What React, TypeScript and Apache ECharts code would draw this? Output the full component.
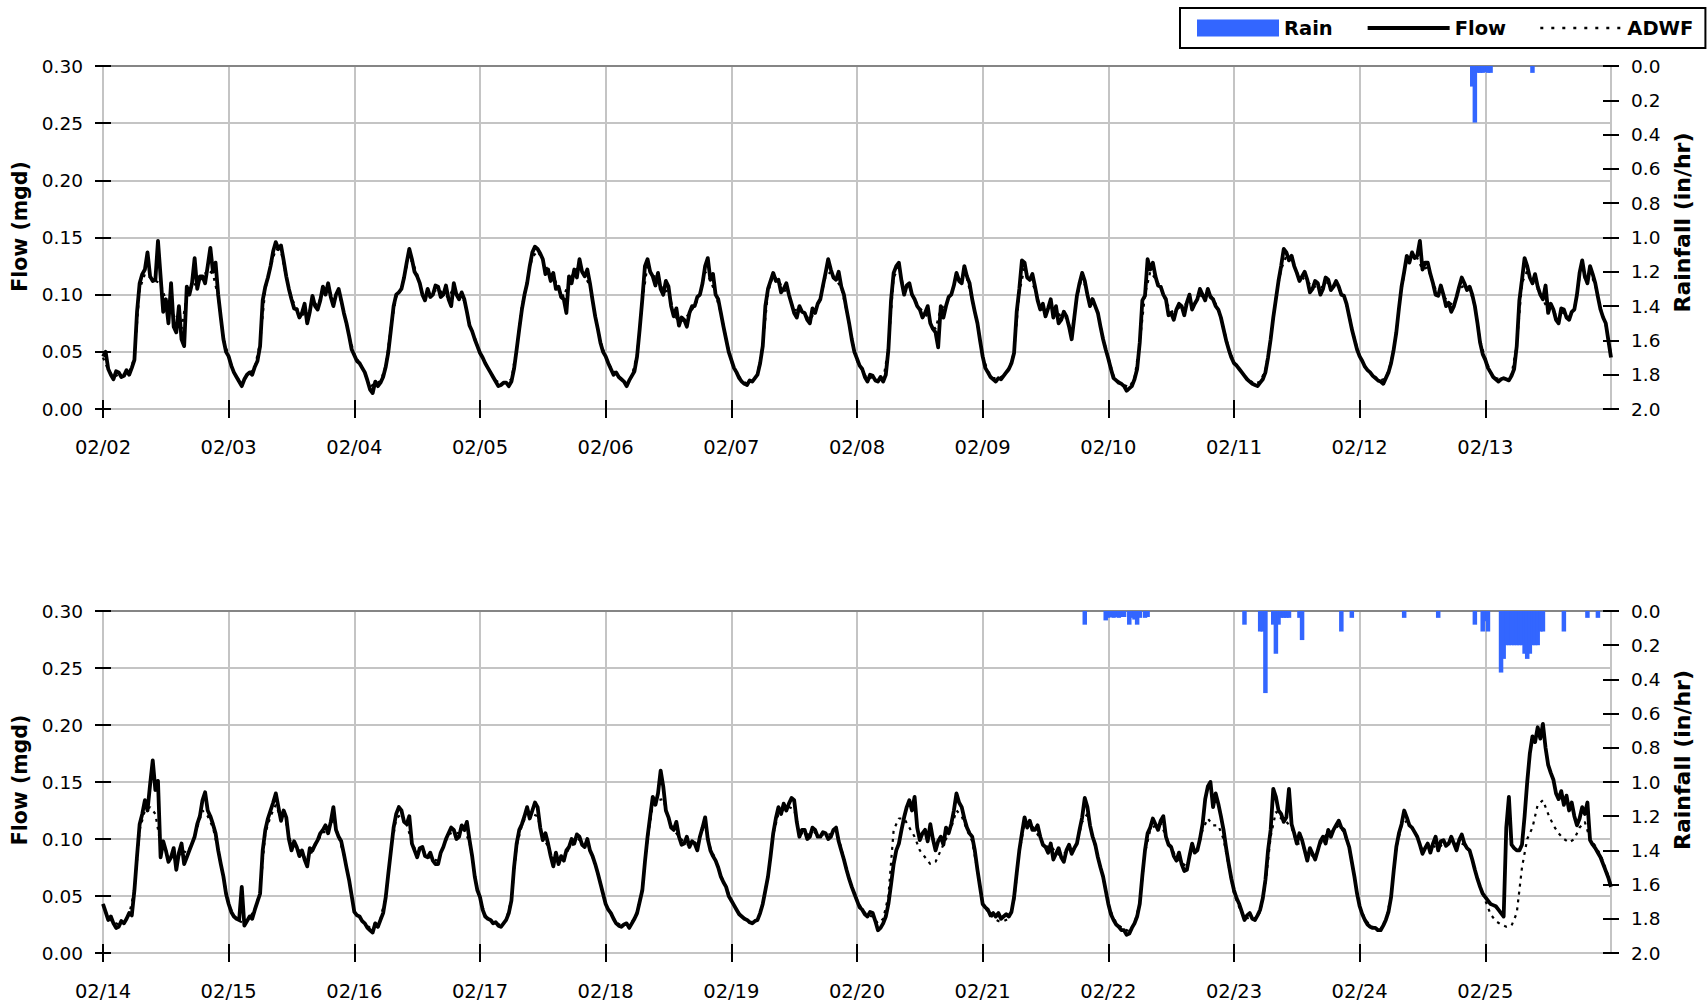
import React, { useEffect, useRef } from "react";
import * as echarts from "echarts";

const FONT = '"DejaVu Sans", "Liberation Sans", sans-serif';

// Tick labels (one per day gridline)
const daysTop = ["02/02", "02/03", "02/04", "02/05", "02/06", "02/07", "02/08", "02/09", "02/10", "02/11", "02/12", "02/13"];
const daysBottom = ["02/14", "02/15", "02/16", "02/17", "02/18", "02/19", "02/20", "02/21", "02/22", "02/23", "02/24", "02/25"];

// Flow (mgd), 30-minute readings, one row per day
const flowTop: number[][] = [
  [.046,.050,.035,.030,.026,.033,.032,.028,.029,.034,.030,.036,.043,.085,.110,.118,.122,.137,.116,.112,.113,.147,.116,.085,.096,.075,.110,.072,.067,.090,.061,.055,.107,.100,.110,.132,.105,.116,.116,.110,.125,.141,.120,.128,.100,.080,.061,.050],
  [.046,.038,.032,.028,.024,.020,.026,.030,.032,.030,.037,.042,.055,.095,.107,.115,.125,.138,.146,.140,.143,.130,.116,.105,.096,.088,.087,.080,.084,.092,.075,.085,.099,.090,.087,.095,.107,.100,.110,.098,.090,.100,.105,.095,.084,.075,.064,.052],
  [.047,.042,.040,.036,.032,.025,.017,.014,.024,.020,.023,.028,.037,.050,.070,.090,.100,.102,.105,.115,.128,.140,.131,.120,.116,.110,.100,.095,.105,.098,.100,.108,.107,.098,.100,.108,.096,.090,.110,.100,.096,.102,.096,.085,.073,.068,.061,.055],
  [.049,.045,.040,.036,.032,.028,.024,.020,.021,.023,.023,.020,.024,.035,.052,.070,.087,.100,.110,.125,.137,.142,.140,.136,.131,.118,.122,.112,.119,.105,.107,.098,.096,.084,.116,.110,.122,.115,.131,.120,.116,.122,.110,.095,.081,.070,.058,.050],
  [.046,.040,.035,.030,.032,.028,.026,.024,.020,.025,.029,.033,.046,.070,.096,.125,.131,.120,.116,.108,.119,.105,.100,.112,.107,.090,.081,.088,.073,.080,.078,.072,.084,.090,.090,.098,.100,.110,.125,.132,.113,.118,.100,.096,.084,.072,.061,.050],
  [.043,.036,.032,.027,.024,.022,.021,.025,.024,.027,.030,.040,.055,.090,.105,.112,.119,.112,.113,.102,.105,.110,.100,.092,.084,.080,.090,.085,.084,.078,.075,.088,.084,.092,.096,.108,.119,.131,.122,.115,.113,.120,.107,.100,.087,.075,.061,.050],
  [.044,.038,.035,.028,.024,.030,.029,.025,.024,.028,.024,.030,.052,.095,.119,.125,.128,.112,.100,.108,.110,.100,.096,.090,.087,.080,.084,.090,.075,.070,.067,.054,.090,.080,.090,.098,.100,.108,.119,.112,.110,.125,.116,.110,.096,.085,.075,.060],
  [.046,.036,.032,.028,.026,.024,.027,.026,.029,.032,.035,.040,.049,.085,.105,.130,.128,.115,.113,.118,.107,.095,.087,.092,.081,.088,.096,.080,.090,.075,.078,.085,.081,.072,.061,.080,.099,.110,.119,.112,.100,.090,.096,.090,.084,.072,.061,.052],
  [.044,.035,.027,.025,.023,.022,.020,.016,.018,.020,.026,.035,.058,.095,.099,.131,.122,.128,.116,.108,.107,.100,.096,.082,.084,.078,.087,.092,.090,.082,.093,.100,.087,.092,.096,.105,.100,.095,.105,.098,.096,.090,.087,.080,.070,.060,.052,.045],
  [.040,.038,.035,.032,.029,.026,.024,.022,.021,.020,.023,.026,.032,.045,.061,.080,.096,.112,.125,.140,.137,.130,.134,.125,.119,.112,.116,.120,.113,.102,.105,.112,.110,.100,.105,.115,.113,.104,.107,.112,.107,.100,.099,.092,.081,.070,.061,.052],
  [.046,.042,.037,.034,.032,.029,.027,.025,.024,.022,.027,.032,.040,.052,.067,.088,.107,.120,.134,.128,.137,.132,.134,.147,.122,.128,.128,.118,.110,.100,.099,.108,.100,.090,.093,.085,.090,.098,.107,.115,.110,.104,.107,.100,.090,.075,.058,.048],
  [.043,.036,.032,.028,.026,.024,.026,.027,.026,.025,.029,.035,.055,.095,.113,.132,.125,.115,.110,.118,.107,.100,.096,.108,.084,.092,.087,.078,.075,.088,.087,.080,.078,.085,.087,.100,.119,.130,.116,.110,.125,.118,.110,.098,.087,.080,.075,.060],
];
const flowTopEnd = 0.045;

const flowBottom: number[][] = [
  [.043,.036,.029,.032,.026,.022,.023,.028,.026,.030,.035,.033,.055,.085,.113,.122,.134,.125,.148,.169,.143,.151,.084,.098,.090,.080,.084,.092,.073,.088,.096,.078,.084,.090,.096,.102,.113,.120,.134,.141,.125,.120,.113,.105,.090,.078,.067,.052],
  [.043,.036,.032,.030,.029,.058,.024,.028,.032,.030,.038,.045,.052,.090,.108,.118,.125,.132,.140,.128,.116,.125,.119,.100,.090,.098,.093,.085,.090,.082,.076,.092,.090,.095,.099,.105,.108,.112,.105,.115,.128,.108,.102,.098,.087,.075,.064,.050],
  [.036,.033,.032,.028,.026,.022,.020,.018,.026,.023,.029,.035,.049,.070,.090,.110,.122,.128,.125,.115,.113,.120,.096,.090,.084,.092,.093,.085,.084,.088,.081,.078,.078,.088,.093,.100,.105,.110,.108,.100,.102,.112,.108,.115,.099,.085,.067,.055],
  [.049,.038,.032,.030,.029,.026,.027,.024,.023,.026,.029,.035,.046,.075,.096,.108,.113,.120,.128,.118,.125,.132,.128,.110,.099,.105,.096,.085,.076,.088,.078,.085,.081,.090,.093,.100,.096,.104,.102,.095,.093,.100,.090,.085,.078,.070,.061,.052],
  [.043,.038,.035,.030,.026,.024,.023,.025,.026,.022,.026,.030,.035,.045,.055,.080,.102,.120,.137,.130,.140,.160,.146,.125,.119,.110,.108,.115,.102,.095,.096,.102,.093,.098,.096,.090,.102,.110,.119,.100,.090,.085,.081,.075,.067,.062,.058,.050],
  [.046,.042,.038,.034,.032,.030,.029,.027,.026,.028,.029,.035,.043,.055,.067,.085,.105,.118,.128,.122,.131,.125,.131,.136,.134,.115,.102,.108,.108,.100,.102,.110,.108,.102,.102,.106,.105,.100,.102,.108,.110,.098,.090,.082,.073,.065,.058,.052],
  [.046,.040,.038,.034,.032,.036,.035,.028,.020,.022,.026,.032,.043,.060,.078,.090,.096,.108,.119,.128,.134,.125,.137,.110,.099,.105,.108,.098,.113,.100,.090,.098,.102,.095,.110,.105,.113,.125,.140,.132,.128,.118,.110,.105,.102,.090,.073,.058],
  [.043,.040,.038,.033,.035,.032,.035,.030,.032,.034,.032,.036,.049,.070,.090,.105,.119,.110,.116,.108,.108,.112,.102,.095,.093,.088,.096,.082,.087,.092,.084,.080,.090,.095,.087,.092,.096,.108,.119,.136,.128,.112,.102,.095,.084,.075,.067,.055],
  [.043,.034,.029,.025,.023,.020,.020,.016,.017,.022,.026,.032,.043,.068,.090,.105,.110,.118,.113,.108,.116,.120,.102,.095,.093,.085,.081,.088,.078,.072,.073,.085,.096,.088,.090,.100,.113,.135,.146,.150,.128,.140,.131,.120,.108,.092,.078,.065],
  [.055,.048,.043,.036,.029,.033,.035,.030,.029,.033,.038,.048,.064,.090,.108,.144,.137,.125,.122,.115,.119,.144,.113,.105,.096,.105,.099,.090,.081,.092,.087,.082,.090,.098,.102,.096,.108,.102,.108,.112,.116,.110,.108,.100,.093,.080,.067,.052],
  [.041,.034,.029,.025,.023,.022,.022,.020,.020,.024,.029,.036,.049,.072,.093,.105,.113,.125,.119,.112,.110,.106,.102,.095,.087,.092,.096,.088,.096,.102,.090,.098,.099,.094,.096,.102,.096,.090,.099,.104,.096,.092,.090,.082,.073,.065,.058,.052],
  [.049,.046,.043,.042,.041,.038,.035,.032,.110,.137,.095,.092,.090,.090,.095,.120,.150,.175,.190,.185,.198,.188,.201,.180,.165,.158,.152,.140,.135,.142,.130,.138,.125,.132,.120,.112,.118,.128,.122,.132,.099,.095,.092,.088,.084,.078,.072,.066],
];
const flowBottomEnd = 0.058;

// ADWF (mgd), hourly, one row per day
const adwfTop: number[][] = [
  [.045,.034,.028,.030,.030,.032,.045,.105,.118,.115,.112,.110,.095,.090,.075,.070,.100,.108,.110,.115,.122,.118,.098,.062],
  [.046,.032,.025,.027,.031,.037,.058,.105,.124,.140,.138,.115,.097,.088,.084,.078,.095,.090,.104,.106,.095,.102,.084,.064],
  [.048,.040,.031,.019,.023,.024,.038,.072,.098,.106,.125,.130,.118,.102,.104,.102,.105,.101,.097,.107,.098,.095,.075,.062],
  [.049,.040,.032,.025,.022,.023,.026,.054,.090,.112,.133,.138,.130,.121,.116,.106,.098,.112,.120,.126,.116,.108,.082,.059],
  [.046,.036,.031,.026,.022,.029,.048,.094,.126,.116,.116,.102,.104,.083,.076,.078,.084,.090,.100,.120,.113,.100,.084,.062],
  [.041,.032,.025,.022,.024,.030,.056,.102,.117,.112,.105,.099,.086,.088,.083,.078,.085,.096,.116,.120,.113,.106,.086,.062],
  [.042,.034,.026,.028,.025,.025,.054,.115,.124,.104,.107,.096,.088,.084,.076,.070,.088,.091,.101,.116,.112,.114,.095,.074],
  [.046,.033,.027,.027,.029,.034,.050,.102,.124,.113,.105,.089,.084,.093,.088,.080,.080,.068,.097,.116,.101,.096,.084,.062],
  [.045,.029,.024,.021,.019,.027,.058,.100,.120,.114,.106,.094,.085,.087,.090,.092,.088,.096,.100,.104,.096,.088,.071,.053],
  [.041,.035,.029,.025,.022,.024,.034,.062,.097,.122,.134,.131,.119,.115,.112,.106,.108,.106,.111,.107,.106,.098,.082,.062],
  [.046,.037,.032,.028,.025,.027,.041,.068,.105,.130,.134,.132,.122,.124,.110,.100,.099,.093,.091,.105,.108,.105,.090,.060],
  [.044,.032,.027,.026,.026,.030,.056,.110,.121,.110,.105,.096,.086,.086,.078,.085,.080,.088,.115,.115,.120,.108,.088,.073],
];
const adwfTopEnd = 0.048;

const adwfBottom: number[][] = [
  [.043,.030,.027,.025,.027,.034,.055,.108,.125,.128,.122,.095,.090,.086,.080,.090,.088,.095,.110,.125,.120,.110,.090,.066],
  [.043,.032,.028,.026,.031,.038,.054,.105,.120,.130,.118,.114,.094,.092,.088,.080,.090,.098,.106,.106,.118,.102,.086,.064],
  [.036,.032,.026,.022,.026,.030,.050,.090,.118,.122,.113,.097,.087,.091,.085,.082,.081,.093,.104,.106,.105,.108,.097,.067],
  [.048,.033,.029,.027,.024,.029,.047,.094,.112,.122,.122,.120,.100,.094,.080,.080,.082,.092,.096,.100,.094,.090,.078,.061],
  [.043,.035,.027,.024,.025,.027,.036,.057,.100,.130,.134,.135,.118,.108,.102,.097,.094,.096,.102,.114,.092,.082,.068,.058],
  [.046,.038,.032,.029,.027,.029,.043,.068,.104,.122,.126,.128,.126,.104,.106,.103,.106,.103,.104,.104,.108,.092,.074,.058],
  [.047,.038,.033,.032,.026,.030,.050,.108,.118,.118,.110,.102,.090,.084,.078,.080,.090,.100,.110,.125,.120,.108,.098,.072],
  [.043,.036,.031,.028,.028,.030,.046,.088,.114,.114,.108,.100,.093,.094,.088,.085,.089,.088,.096,.115,.122,.102,.084,.066],
  [.043,.030,.024,.021,.019,.026,.044,.088,.108,.112,.114,.102,.093,.083,.079,.076,.092,.090,.108,.118,.112,.112,.100,.076],
  [.052,.040,.030,.031,.029,.036,.060,.102,.124,.118,.115,.110,.096,.096,.084,.086,.090,.100,.106,.107,.112,.106,.092,.066],
  [.041,.030,.024,.022,.021,.029,.050,.092,.112,.116,.110,.102,.090,.094,.094,.092,.096,.096,.095,.097,.095,.089,.073,.058],
  [.046,.034,.028,.025,.023,.024,.035,.075,.100,.110,.130,.134,.122,.112,.105,.100,.097,.100,.110,.115,.100,.094,.086,.074],
];
const adwfBottomEnd = 0.060;

// Rain (in/hr): [day, hour of day, value]
const rainTop: [string, number, number][] = [
  ["02/12", 21.5, 0.12], ["02/12", 22, 0.33], ["02/12", 22.5, 0.04], ["02/12", 23, 0.04], ["02/12", 23.5, 0.04],
  ["02/13", 0, 0.035], ["02/13", 0.5, 0.04], ["02/13", 1, 0.04], ["02/13", 9, 0.04],
];
const rainBottom: [string, number, number][] = [
  ["02/21", 19.5, 0.08], ["02/21", 23.5, 0.055],
  ["02/22", 0, 0.04], ["02/22", 0.5, 0.035], ["02/22", 1, 0.04], ["02/22", 1.5, 0.035], ["02/22", 2, 0.04], ["02/22", 2.5, 0.035], ["02/22", 3, 0.035],
  ["02/22", 4, 0.08], ["02/22", 4.5, 0.04], ["02/22", 5, 0.05], ["02/22", 5.5, 0.08], ["02/22", 6, 0.04], ["02/22", 7, 0.04], ["02/22", 7.5, 0.035],
  ["02/23", 2, 0.08], ["02/23", 5, 0.12], ["02/23", 5.5, 0.12], ["02/23", 6, 0.48], ["02/23", 7.5, 0.08], ["02/23", 8, 0.25], ["02/23", 8.5, 0.08],
  ["02/23", 9, 0.04], ["02/23", 9.5, 0.04], ["02/23", 10, 0.04], ["02/23", 10.5, 0.04], ["02/23", 12.5, 0.04], ["02/23", 13, 0.17],
  ["02/23", 20.5, 0.12], ["02/23", 22.5, 0.04],
  ["02/24", 8.5, 0.04], ["02/24", 15, 0.04], ["02/24", 22, 0.08], ["02/24", 23.5, 0.12],
  ["02/25", 0, 0.06], ["02/25", 0.5, 0.12],
  ["02/25", 3, 0.36], ["02/25", 3.5, 0.28], ["02/25", 4, 0.2], ["02/25", 4.5, 0.2], ["02/25", 5, 0.2], ["02/25", 5.5, 0.2], ["02/25", 6, 0.2],
  ["02/25", 6.5, 0.2], ["02/25", 7, 0.2], ["02/25", 7.5, 0.25], ["02/25", 8, 0.28], ["02/25", 8.5, 0.25], ["02/25", 9, 0.2], ["02/25", 9.5, 0.2],
  ["02/25", 10, 0.2], ["02/25", 10.5, 0.12], ["02/25", 11, 0.12], ["02/25", 15, 0.12], ["02/25", 19.5, 0.04], ["02/25", 21.5, 0.04],
];

function toSeries(days: number[][], end: number) {
  const out: number[][] = [];
  days.forEach((row, d) => row.forEach((v, k) => out.push([d * 24 + (k * 24) / row.length, v])));
  out.push([days.length * 24, end]);
  return out;
}
function rainSeries(rain: [string, number, number][], labels: string[]) {
  return rain.map(([day, h, v]) => [labels.indexOf(day) * 24 + h, v]);
}

const BLACK = "#000";
const GRIDC = "#c4c4c4";
const TICK = { color: BLACK, width: 2 };

function buildOption() {
  const panels = [
    { labels: daysTop, flow: flowTop, flowEnd: flowTopEnd, adwf: adwfTop, adwfEnd: adwfTopEnd, rain: rainTop, top: 66, height: 343, lp: 22, rp: 30 },
    { labels: daysBottom, flow: flowBottom, flowEnd: flowBottomEnd, adwf: adwfBottom, adwfEnd: adwfBottomEnd, rain: rainBottom, top: 611, height: 342, lp: 4, rp: 44 },
  ];
  const grid: any[] = [];
  const xAxis: any[] = [];
  const yAxis: any[] = [];
  const series: any[] = [];
  panels.forEach((p, i) => {
    grid.push({ left: 103, top: p.top, width: 1508, height: p.height, show: true, borderColor: BLACK, borderWidth: 2, backgroundColor: "transparent" });
    // main x axis: shifted 9px into the plot so its outward ticks cross the frame line
    xAxis.push({
      type: "value", gridIndex: i, min: 0, max: 288, interval: 24,
      position: "bottom", offset: -9,
      axisLine: { show: false, onZero: false },
      axisTick: { show: true, length: 18, lineStyle: TICK },
      axisLabel: {
        formatter: (v: number) => p.labels[Math.round(v / 24)] ?? "",
        showMaxLabel: false,
        fontSize: 19.5, color: BLACK, fontFamily: FONT, margin: 37,
      },
      splitLine: { show: true, lineStyle: { color: GRIDC, width: 2 } },
    });
    // top frame line in grey
    xAxis.push({
      type: "value", gridIndex: i, min: 0, max: 288, interval: 24,
      position: "top",
      axisLine: { show: true, onZero: false, lineStyle: { color: "#858585", width: 2 } },
      axisTick: { show: false },
      axisLabel: { show: false },
      splitLine: { show: false },
    });
    yAxis.push({
      type: "value", gridIndex: i, min: 0, max: 0.3, interval: 0.05,
      position: "left", offset: -8,
      name: "Flow (mgd)",
      nameLocation: "middle",
      nameGap: 66,
      nameTextStyle: { fontSize: 20.5, fontWeight: "bold", color: BLACK, fontFamily: FONT, padding: [0, 0, 0, p.lp] },
      axisLine: { show: false, onZero: false },
      axisTick: { show: true, length: 16, lineStyle: TICK },
      axisLabel: { formatter: (v: number) => v.toFixed(2), fontSize: 18.5, color: BLACK, fontFamily: FONT, margin: 28 },
      splitLine: { show: true, lineStyle: { color: GRIDC, width: 2 } },
    });
    yAxis.push({
      type: "value", gridIndex: i, min: 0, max: 2, interval: 0.2,
      position: "right", inverse: true, offset: -8,
      name: "Rainfall (in/hr)",
      nameLocation: "middle",
      nameGap: 62,
      nameTextStyle: { fontSize: 22, fontWeight: "bold", color: BLACK, fontFamily: FONT, padding: [0, 0, 0, p.rp] },
      axisLine: { show: false, onZero: false },
      axisTick: { show: true, length: 16, lineStyle: TICK },
      axisLabel: { formatter: (v: number) => v.toFixed(1), fontSize: 18.5, color: BLACK, fontFamily: FONT, margin: 28 },
      splitLine: { show: false },
    });
    series.push({
      name: "Rain", type: "bar", xAxisIndex: i * 2, yAxisIndex: i * 2 + 1,
      data: rainSeries(p.rain, p.labels), barWidth: 4.5,
      itemStyle: { color: "#3366ff" }, z: 2,
    });
    series.push({
      name: "ADWF", type: "line", xAxisIndex: i * 2, yAxisIndex: i * 2,
      data: toSeries(p.adwf, p.adwfEnd), symbol: "none", showSymbol: false,
      itemStyle: { color: BLACK },
      lineStyle: { color: BLACK, width: 2.2, type: [3, 5] }, z: 3,
    });
    series.push({
      name: "Flow", type: "line", xAxisIndex: i * 2, yAxisIndex: i * 2,
      data: toSeries(p.flow, p.flowEnd), symbol: "none", showSymbol: false,
      itemStyle: { color: BLACK },
      lineStyle: { color: BLACK, width: 3.8, join: "round" }, z: 4,
    });
  });
  const hidden = { color: "rgba(0,0,0,0)", borderWidth: 0, opacity: 0 };
  return {
    animation: false,
    backgroundColor: "#fff",
    grid, xAxis, yAxis, series,
    legend: {
      left: 1180, top: 8,
      orient: "horizontal",
      padding: [10, 12, 10, 17],
      borderColor: BLACK, borderWidth: 2,
      itemWidth: 82, itemHeight: 17, itemGap: 33,
      textStyle: { fontSize: 19.5, fontWeight: "bold", color: BLACK, fontFamily: FONT },
      data: [
        { name: "Rain", icon: "rect", itemStyle: { color: "#3366ff" } },
        { name: "Flow", itemStyle: hidden, lineStyle: { width: 3.8, color: BLACK, type: "solid" } },
        { name: "ADWF", itemStyle: hidden, lineStyle: { width: 2.5, color: BLACK, type: [3, 8] } },
      ],
    },
  };
}

export default function App() {
  const ref = useRef<HTMLDivElement>(null);
  useEffect(() => {
    document.body.style.margin = "0";
    document.body.style.overflow = "hidden";
    const chart = echarts.init(ref.current!, null, { renderer: "svg" });
    chart.setOption(buildOption() as any);
    return () => chart.dispose();
  }, []);
  return <div ref={ref} style={{ width: 1707, height: 1005 }} />;
}
